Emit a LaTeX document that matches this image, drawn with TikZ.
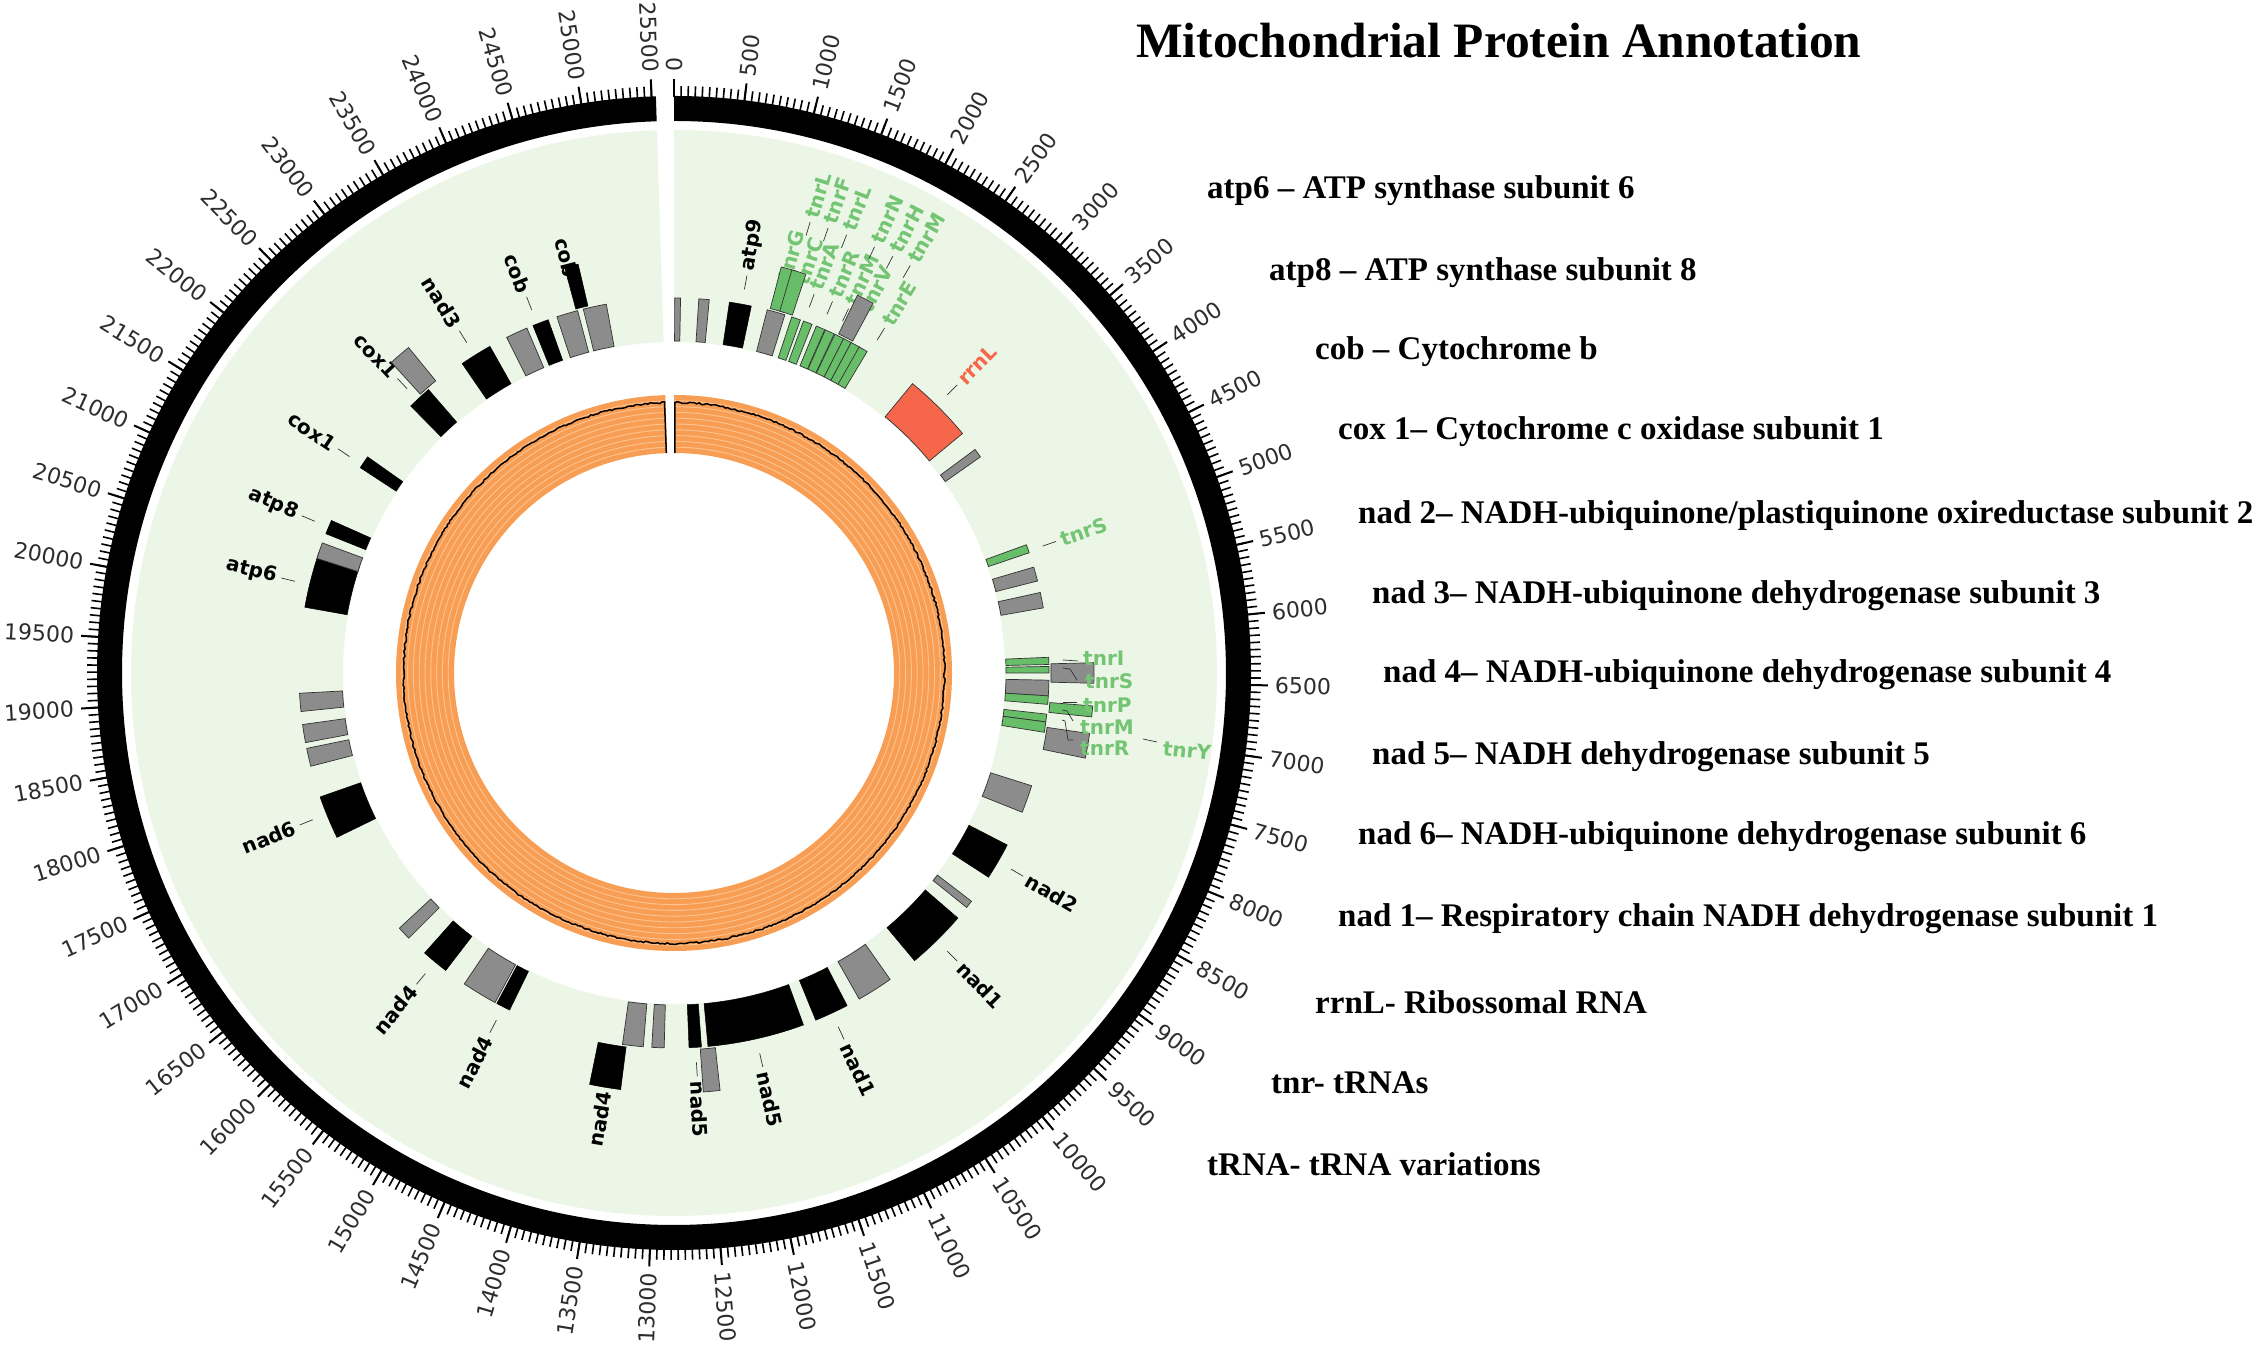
\documentclass[tikz,border=0pt]{standalone}
\usepackage{fontspec}
\setmainfont{Liberation Serif}
\newfontfamily\dvs{DejaVu Sans}
\usetikzlibrary{calc}
\definecolor{bggreen}{RGB}{236,246,230}
\definecolor{orfill}{RGB}{248,158,84}
\definecolor{orline}{RGB}{253,196,146}
\definecolor{gbox}{RGB}{140,140,140}
\definecolor{grbox}{RGB}{104,190,104}
\definecolor{grtext}{RGB}{115,196,115}
\definecolor{rdbox}{RGB}{245,102,75}
\definecolor{ticktext}{RGB}{45,45,45}
\newcommand\gsec[5]{\path[#5] ({90-(#1)}:#3) -- ({90-(#1)}:#4) arc[start angle={90-(#1)}, end angle={90-(#2)}, radius=#4] -- ({90-(#2)}:#3) arc[start angle={90-(#2)}, end angle={90-(#1)}, radius=#3] -- cycle;}
\newcommand\lone[3]{\gsec{#1}{#2}{332}{375}{#3}}
\newcommand\ltwo[3]{\gsec{#1}{#2}{377}{420}{#3}}
\newcommand\flab[5]{%
  \pgfmathsetmacro\fa{90-(#2)}%
  \ifdim #2pt<180pt
    \node[flab,text=#4,rotate=\fa,anchor=west] (#1) at (\fa:#3) {#5};%
  \else
    \node[flab,text=#4,rotate=\fa+180,anchor=east] (#1) at (\fa:#3) {#5};%
  \fi}
\newcommand\flabL[6]{% name theta r color text leaderstart
  \flab{#1}{#2}{#3}{#4}{#5}%
  \ifdim #2pt<180pt
    \draw[leadline,shorten >=5pt] ({90-(#2)}:#6) -- (#1.west);%
  \else
    \draw[leadline,shorten >=5pt] ({90-(#2)}:#6) -- (#1.east);%
  \fi}
\begin{document}
\begin{tikzpicture}[x=1pt,y=1pt,
  blk/.style={fill=black,draw=black,line width=0.5},
  gry/.style={fill=gbox,draw=black!80,line width=0.7},
  grn/.style={fill=grbox,draw=black!80,line width=0.7},
  rrb/.style={fill=rdbox,draw=black!80,line width=0.7},
  flab/.style={font=\dvs\bfseries\fontsize{20}{24}\selectfont,inner sep=0pt},
  ticklab/.style={font=\dvs\fontsize{22}{26}\selectfont,inner sep=0pt,text=ticktext},
  leadline/.style={line width=0.7,black!80},
  leg/.style={font=\bfseries\fontsize{33}{40}\selectfont,inner sep=0pt,anchor=base west},
]
\useasboundingbox (0,0) rectangle (2264,1350);
\fill[white] (0,0) rectangle (2264,1350);
\begin{scope}[shift={(674,677)}]
% background tracks
\gsec{0}{358.2}{331}{543}{fill=bggreen}
\gsec{0}{358.2}{552}{577}{fill=black}
\gsec{0}{358.2}{220}{278}{fill=orfill}
\foreach \k in {1,...,9}{\pgfmathsetmacro\rr{220+\k*5.8}
  \draw[orline,line width=0.9] (90:\rr) arc[start angle=90,end angle=-268.2,radius=\rr];}
\pgfmathsetseed{7}
\draw[line width=1.5] (89.8:220) -- plot[domain=0.2:358,samples=700,variable=\x] ({90-\x}:{269.6+1.8*rnd}) -- (-268:220);
% ticks (50 bp minor, 500 bp major)
\foreach \q in {0,...,510}{\pgfmathsetmacro\a{90-\q*0.7015}
  \draw[line width=1.6] (\a:576) -- (\a:587);}
\foreach \q in {0,...,51}{\pgfmathsetmacro\a{90-\q*7.015}\pgfmathsetmacro\t{\q*7.015}
  \edef\lbl{\the\numexpr\q*500\relax}
  \draw[line width=2] (\a:576) -- (\a:594);
  \ifdim\t pt<180pt
    \node[ticklab,rotate=\a,anchor=west] (t\q) at (\a:601) {\lbl};
  \else
    \node[ticklab,rotate=\a+180,anchor=east] (t\q) at (\a:601) {\lbl};
  \fi}
% layer 1 features
\lone{0.1}{1.0}{gry} \lone{3.8}{5.4}{gry} \lone{8.5}{11.9}{blk} \lone{14.4}{17.2}{gry}
\lone{18.3}{19.7}{grn} \lone{20.2}{21.6}{grn} \lone{22.3}{23.7}{grn} \lone{23.8}{25.3}{grn}
\lone{25.4}{26.9}{grn} \lone{26.9}{28.2}{grn} \lone{28.2}{29.7}{grn} \lone{29.6}{31.0}{grn}
\lone{39.5}{50.3}{rrb} \lone{53.4}{54.8}{gry} \lone{70.0}{71.3}{grn}
\lone{73.6}{75.8}{gry} \lone{77.6}{80.0}{gry}
\lone{87.6}{88.7}{grn} \lone{89.0}{90.0}{grn} \lone{91.1}{93.5}{gry} \lone{93.5}{94.8}{grn}
\lone{96.3}{97.5}{grn} \lone{97.5}{99.1}{grn}
\lone{107.5}{111.8}{gry} \lone{117.3}{123.0}{blk} \lone{127.5}{128.7}{gry}
\lone{130.8}{140.1}{blk} \lone{144.8}{150.4}{gry} \lone{152.5}{157.8}{blk}
\lone{159.8}{174.8}{blk} \lone{175.8}{177.7}{blk} \lone{181.5}{183.4}{gry} \lone{184.7}{187.9}{gry}
\lone{206.0}{208.2}{blk} \lone{208.5}{214.0}{gry} \lone{217.5}{221.7}{blk} \lone{225.0}{227.1}{gry}
\lone{244.0}{250.7}{blk} \lone{255.6}{258.4}{gry} \lone{259.3}{262.1}{gry} \lone{264.1}{266.9}{gry}
\lone{280.1}{288.8}{blk} \lone{287.8}{290.3}{gry} \lone{291.8}{294.0}{blk}
\lone{303.2}{305.2}{blk} \lone{315.4}{319.1}{blk} \lone{325.6}{330.6}{blk}
\lone{333.5}{336.9}{gry} \lone{337.9}{340.4}{blk} \lone{341.8}{345.1}{gry} \lone{346.0}{349.6}{gry}
% black labels
\flabL{Latp9}{10.4}{409}{black}{atp9}{390}
\flabL{Lnad2}{120.2}{409}{black}{nad2}{390}
\flabL{Lnad1a}{135.5}{409}{black}{nad1}{390}
\flabL{Lnad1b}{155.1}{409}{black}{nad1}{390}
\flabL{Lnad5a}{167.3}{409}{black}{nad5}{390}
\flabL{Lnad5b}{176.7}{409}{black}{nad5}{390}
\flabL{Lnad4a}{189.4}{424}{black}{nad4}{405}
\flabL{Lnad4b}{207.1}{409}{black}{nad4}{390}
\flabL{Lnad4c}{219.6}{409}{black}{nad4}{390}
\flabL{Lnad6}{247.9}{409}{black}{nad6}{390}
\flabL{Latp6}{283.6}{409}{black}{atp6}{390}
\flabL{Latp8}{292.9}{409}{black}{atp8}{390}
\flabL{Lcox1a}{303.7}{409}{black}{cox1}{390}
\flabL{Lcox1b}{316.8}{409}{black}{cox1}{390}
\flabL{Lnad3}{327.9}{409}{black}{nad3}{390}
\flabL{Lcoba}{338.6}{409}{black}{cob}{390}
\flabL{Lcobb}{345.5}{409}{black}{cob}{390}
\flabL{LrrnL}{44.5}{409}{rdbox}{rrnL}{390}
\flabL{LtnrS}{71.0}{409}{grtext}{tnrS}{390}
% top cluster green labels
\flabL{Gg}{15.7}{409}{grtext}{tnrG}{390}
\flabL{Gc}{18.2}{409}{grtext}{tnrC}{390}
\flabL{Ga}{20.3}{409}{grtext}{tnrA}{390}
\flabL{Gr}{23.1}{409}{grtext}{tnrR}{390}
\flabL{Gm}{25.6}{409}{grtext}{tnrM}{390}
\flabL{Gv}{27.8}{409}{grtext}{tnrV}{390}
\flabL{Ge}{31.4}{409}{grtext}{tnrE}{390}
\flabL{Hl}{16.8}{476}{grtext}{tnrL}{457}
\flabL{Hf}{19.1}{476}{grtext}{tnrF}{457}
\flabL{Hl2}{21.5}{476}{grtext}{tnrL}{457}
\flabL{Hn}{25.2}{476}{grtext}{tnrN}{457}
\flabL{Hh}{27.7}{476}{grtext}{tnrH}{457}
\flabL{Hm}{30.1}{476}{grtext}{tnrM}{457}
% layer 2 features
\ltwo{14.8}{16.9}{grn} \ltwo{16.3}{18.3}{grn} \ltwo{25.9}{28.3}{gry}
\ltwo{88.6}{91.4}{gry} \ltwo{94.5}{96.0}{grn} \ltwo{98.3}{101.7}{gry}
\ltwo{173.7}{176.0}{gry} \ltwo{187.3}{191.6}{blk} \ltwo{317.7}{320.8}{gry} \ltwo{344.9}{346.8}{blk}
% right cluster labels
\node[flab,text=grtext,anchor=west] (Ri) at (409,15) {tnrI};
\node[flab,text=grtext,anchor=west] (Rs) at (411,-8) {tnrS};
\node[flab,text=grtext,anchor=west] (Rp) at (409,-32) {tnrP};
\node[flab,text=grtext,anchor=west] (Rm) at (406,-54) {tnrM};
\node[flab,text=grtext,anchor=west] (Rr) at (406,-75) {tnrR};
\node[flab,text=grtext,anchor=west,rotate=-6] (Ry) at (489,-75) {tnrY};
\coordinate (ci) at (389,13); \coordinate (cs) at (389,5); \coordinate (cp) at (389,-29);
\coordinate (cm) at (388,-37); \coordinate (cr) at (388,-47); \coordinate (cy) at (469,-66);
\draw[leadline] (ci) -- (404,12);
\draw[leadline] (cs) -- (396,4) -- (403,-7);
\draw[leadline] (cp) -- (403,-29);
\draw[leadline] (cm) -- (393,-38) -- (399,-48);
\draw[leadline] (cr) -- (391,-48) -- (394,-67) -- (399,-67);
\draw[leadline] (cy) -- (483,-69);
\end{scope}
% title and legend
\node[font=\bfseries\fontsize{49.5}{58}\selectfont,inner sep=0pt,anchor=base west] (title) at (1136,1292) {Mitochondrial Protein Annotation};
\node[leg] (g1) at (1207,1151) {atp6 \textendash{} ATP synthase subunit 6};
\node[leg] (g2) at (1269,1069) {atp8 \textendash{} ATP synthase subunit 8};
\node[leg] (g3) at (1315,990) {cob \textendash{} Cytochrome b};
\node[leg] (g4) at (1338,910) {cox 1\textendash{} Cytochrome c oxidase subunit 1};
\node[leg] (g5) at (1358,826) {nad 2\textendash{} NADH-ubiquinone/plastiquinone oxireductase subunit 2};
\node[leg] (g6) at (1372,746) {nad 3\textendash{} NADH-ubiquinone dehydrogenase subunit 3};
\node[leg] (g7) at (1383,667) {nad 4\textendash{} NADH-ubiquinone dehydrogenase subunit 4};
\node[leg] (g8) at (1372,585) {nad 5\textendash{} NADH dehydrogenase subunit 5};
\node[leg] (g9) at (1358,505) {nad 6\textendash{} NADH-ubiquinone dehydrogenase subunit 6};
\node[leg] (g10) at (1338,423) {nad 1\textendash{} Respiratory chain NADH dehydrogenase subunit 1};
\node[leg] (g11) at (1315,337) {rrnL- Ribossomal RNA};
\node[leg] (g12) at (1271,257) {tnr- tRNAs};
\node[leg] (g13) at (1207,175) {tRNA- tRNA variations};
\end{tikzpicture}
\end{document}
